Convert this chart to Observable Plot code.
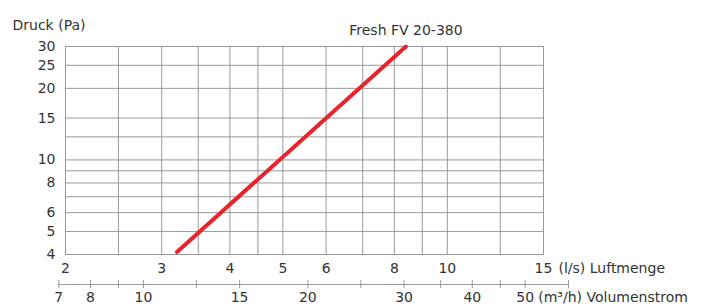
<!DOCTYPE html>
<html><head><meta charset="utf-8">
<script src="https://cdn.jsdelivr.net/npm/d3@7"></script>
<script src="https://cdn.jsdelivr.net/npm/@observablehq/plot@0.6"></script>
<style>body{margin:0;background:#fff}</style>
</head><body><div id="chart"></div>
<script>
// Data (log-log pressure drop curve)
const seriesName = "Fresh FV 20-380";
const flowLs = [3.2, 8.4];          // l/s
const pressurePa = [4.1, 30];       // Pa
const xTicks = [2, 3, 4, 5, 6, 8, 10, 15];
const xGrid = [2, 2.5, 3, 3.5, 4, 4.5, 5, 6, 7, 8, 9, 10, 12.5, 15];
const yTicks = [4, 5, 6, 8, 10, 15, 20, 25, 30];
const yGrid = [4, 5, 6, 7, 8, 9, 10, 12.5, 15, 20, 25, 30];
const m3hTicks = [7, 8, 9, 10, 12.5, 15, 20, 25, 30, 35, 40, 45, 50, 60];
const m3hLabels = [7, 8, 10, 15, 20, 30, 40, 50];
const yTitle = "Druck (Pa)";
const xUnit = "(l/s) Luftmenge";
const x2Unit = "(m³/h) Volumenstrom";
const LS_PER_M3H = 1 / 3.6;

const curve = flowLs.map((x, i) => ({x, y: pressurePa[i]}));
const gridColor = "#999";
const textColor = "#333";

const chart = Plot.plot({
  width: 707,
  height: 306,
  marginLeft: 65,
  marginRight: 164,
  marginTop: 46,
  marginBottom: 52,
  style: {fontFamily: "DejaVu Sans", fontSize: "14px", color: textColor, background: "#fff", overflow: "visible"},
  x: {type: "log", domain: [2, 15], axis: null},
  y: {type: "log", domain: [4, 30], axis: null},
  marks: [
    Plot.gridX(xGrid, {stroke: gridColor, strokeOpacity: 1}),
    Plot.gridY(yGrid, {stroke: gridColor, strokeOpacity: 1}),
    Plot.frame({stroke: gridColor}),
    // primary x tick labels (l/s)
    Plot.text(xTicks, {x: d => d, frameAnchor: "bottom", text: d => String(d), lineAnchor: "top", dy: 9}),
    Plot.text([xTicks[xTicks.length - 1]], {x: d => d, frameAnchor: "bottom", text: () => xUnit, textAnchor: "start", lineAnchor: "top", dx: 15, dy: 9}),
    // y tick labels (Pa)
    Plot.text(yTicks, {y: d => d, frameAnchor: "left", text: d => String(d), textAnchor: "end", dx: -10}),
    // secondary x axis (m³/h)
    Plot.ruleY([4], {x1: m3hTicks[0] * LS_PER_M3H, x2: m3hTicks[m3hTicks.length - 1] * LS_PER_M3H, dy: 30, stroke: gridColor}),
    Plot.axisX(m3hTicks.map(v => v * LS_PER_M3H), {dy: 26, tickSize: 8, stroke: gridColor, label: null, tickFormat: () => ""}),
    Plot.text(m3hLabels, {x: d => d * LS_PER_M3H, frameAnchor: "bottom", text: d => String(d), lineAnchor: "top", dy: 38}),
    Plot.text([50], {x: d => d * LS_PER_M3H, frameAnchor: "bottom", text: () => x2Unit, textAnchor: "start", lineAnchor: "top", dx: 13, dy: 38}),
    Plot.text([yTitle], {frameAnchor: "top-left", text: d => d, textAnchor: "start", dx: -53, dy: -26}),
    Plot.line(curve, {x: "x", y: "y", stroke: "#e8232b", strokeWidth: 4}),
    Plot.text([curve[curve.length - 1]], {x: "x", y: "y", text: () => seriesName, dy: -16})
  ]
});
document.getElementById("chart").append(chart);
</script>
</body></html>
